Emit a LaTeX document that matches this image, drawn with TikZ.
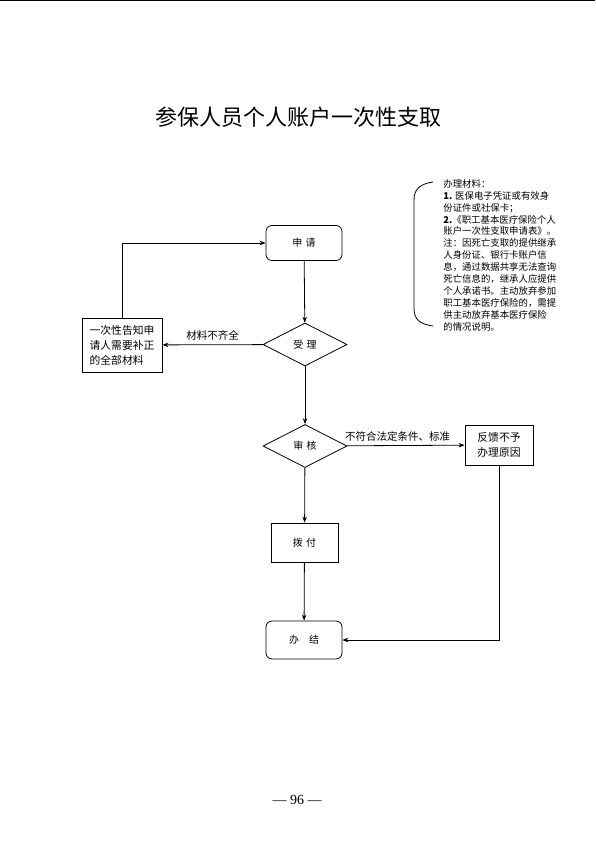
\documentclass[tikz,border=0pt]{standalone}
\usepackage{fontspec}
\setmainfont{Liberation Serif}
\newfontfamily\cjk{Noto Sans CJK SC}
\usetikzlibrary{shapes.geometric,arrows.meta}
\begin{document}
\begin{tikzpicture}[x=1pt,y=-1pt,line width=0.8pt,
  arr/.style={-{Stealth[length=6pt,width=4.5pt]}},
  lbl/.style={font=\cjk\fontsize{10.5}{13}\selectfont},
  rbox/.style={draw,rounded corners=6pt,minimum width=76pt,minimum height=35pt,inner sep=0pt,font=\cjk\fontsize{10}{12}\selectfont},
  sbox/.style={draw,inner sep=2pt,font=\cjk\fontsize{10.8}{15}\selectfont},
  dia/.style={draw,diamond,minimum width=84pt,minimum height=43pt,inner sep=0pt,font=\cjk\fontsize{10}{12}\selectfont}]
\useasboundingbox (0,0) rectangle (595,841);
\draw[line width=1.2pt] (0,0.6) -- (595,0.6);
\node[font=\cjk\fontsize{22}{24}\selectfont] (title) at (298,117) {参保人员个人账户一次性支取};

\node[rbox] (apply) at (304,243) {申\,\,请};
\node[dia] (accept) at (305,344.5) {受\,\,理};
\node[sbox,minimum width=80pt,minimum height=54pt,align=left] (notify) at (122,345) {一次性告知申\\请人需要补正\\的全部材料};
\node[dia] (review) at (305,446) {审\,\,核};
\node[sbox,minimum width=68pt,minimum height=40pt,align=center] (feedback) at (499,445) {反馈不予\\办理原因};
\node[draw,minimum width=67pt,minimum height=39pt,inner sep=0pt,font=\cjk\fontsize{10}{12}\selectfont] (pay) at (304.5,542.5) {拨\,\,付};
\node[rbox,minimum height=38pt] (done) at (304,640) {办\quad 结};

\draw[arr] (apply) -- (accept);
\draw[arr] (accept) -- node[lbl,above=1pt] {材料不齐全} (notify);
\draw[arr] (notify.north) |- (apply.west);
\draw[arr] (accept) -- (review);
\draw[arr] (review) -- node[lbl,above=0pt,pos=0.43] {不符合法定条件、标准} (feedback);
\draw[arr] (review) -- (pay);
\draw[arr] (pay) -- (done);
\draw[arr] (feedback.south) |- (done.east);

\draw (433,182) .. controls (419,184) and (414,190) .. (414,200) -- (414,308) .. controls (414,319) and (419,324) .. (433,326);
\node[anchor=north west,inner sep=0pt,align=left,font=\cjk\fontsize{9.4}{11.9}\selectfont] (materials) at (443,179) {办理材料：\\
\textbf{1.} 医保电子凭证或有效身\\
份证件或社保卡；\\
\textbf{2.}《职工基本医疗保险个人\\
账户一次性支取申请表》。\\
注：因死亡支取的提供继承\\
人身份证、银行卡账户信\\
息，通过数据共享无法查询\\
死亡信息的，继承人应提供\\
个人承诺书。主动放弃参加\\
职工基本医疗保险的，需提\\
供主动放弃基本医疗保险\\
的情况说明。};

\node[font=\fontsize{14}{16}\selectfont] (page) at (297,800) {— 96 —};
\end{tikzpicture}
\end{document}
